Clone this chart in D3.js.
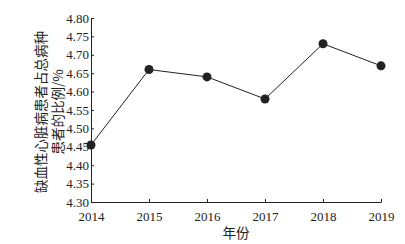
<!DOCTYPE html>
<html>
<head>
<meta charset="utf-8">
<script src="https://cdn.jsdelivr.net/npm/d3@7"></script>
<style>
  body { margin: 0; background: #fff; }
  svg { display: block; }
</style>
</head>
<body>
<div id="chart"></div>
<script>
// data
const years = [2014, 2015, 2016, 2017, 2018, 2019];
const ratio = [4.455, 4.66, 4.64, 4.58, 4.73, 4.67];
const yTicks = [4.30, 4.35, 4.40, 4.45, 4.50, 4.55, 4.60, 4.65, 4.70, 4.75, 4.80];

const width = 405, height = 244;
const margin = {top: 18, right: 24, bottom: 42, left: 91};

const svg = d3.select("#chart").append("svg")
    .attr("width", width)
    .attr("height", height);

const x = d3.scaleLinear()
    .domain([2014, 2019])
    .range([margin.left, width - margin.right]);

const y = d3.scaleLinear()
    .domain([4.30, 4.80])
    .range([height - margin.bottom, margin.top]);

const ink = "#222";
const serif = "'Liberation Serif', 'DejaVu Serif', serif";
const cjk = "'Noto Sans CJK SC', sans-serif";

// x axis, ticks pointing up
let xAxis = svg.append("g")
    .attr("transform", `translate(0,${y(4.30)})`)
    .call(d3.axisBottom(x).tickValues(years).tickFormat(d3.format("d")).tickSize(-3).tickSizeOuter(0).tickPadding(10));

// y axis, ticks pointing right
let yAxis = svg.append("g")
    .attr("transform", `translate(${x(2014)},0)`)
    .call(d3.axisLeft(y).tickValues(yTicks).tickFormat(d3.format(".2f")).tickSize(-3).tickSizeOuter(0).tickPadding(2));

[xAxis, yAxis].forEach(g => {
  g.selectAll(".domain, line").attr("stroke", ink).attr("stroke-width", 1);
  g.selectAll("text")
      .attr("fill", ink)
      .style("font-family", serif)
      .style("font-size", "13px");
});

// line + points
const line = d3.line()
    .x((d, i) => x(years[i]))
    .y(d => y(d));

svg.append("path")
    .datum(ratio)
    .attr("d", line)
    .attr("fill", "none")
    .attr("stroke", ink)
    .attr("stroke-width", 1);

svg.selectAll("circle.pt")
    .data(ratio)
    .enter().append("circle")
    .attr("class", "pt")
    .attr("cx", (d, i) => x(years[i]))
    .attr("cy", d => y(d))
    .attr("r", 4.5)
    .attr("fill", ink);

// axis titles
svg.append("text")
    .attr("x", (x(2014) + x(2019)) / 2)
    .attr("y", 238)
    .attr("text-anchor", "middle")
    .attr("fill", ink)
    .style("font-family", cjk)
    .style("font-size", "13.5px")
    .text("年份");

const yTitle = svg.append("text")
    .attr("transform", "translate(46,112) rotate(-90)")
    .attr("text-anchor", "middle")
    .attr("fill", ink)
    .style("font-family", cjk)
    .style("font-size", "13.5px");

yTitle.append("tspan").attr("x", 0).attr("dy", 0).text("缺血性心脏病患者占总病种");
yTitle.append("tspan").attr("x", 0).attr("dy", 17).text("患者的比例/%");
</script>
</body>
</html>
